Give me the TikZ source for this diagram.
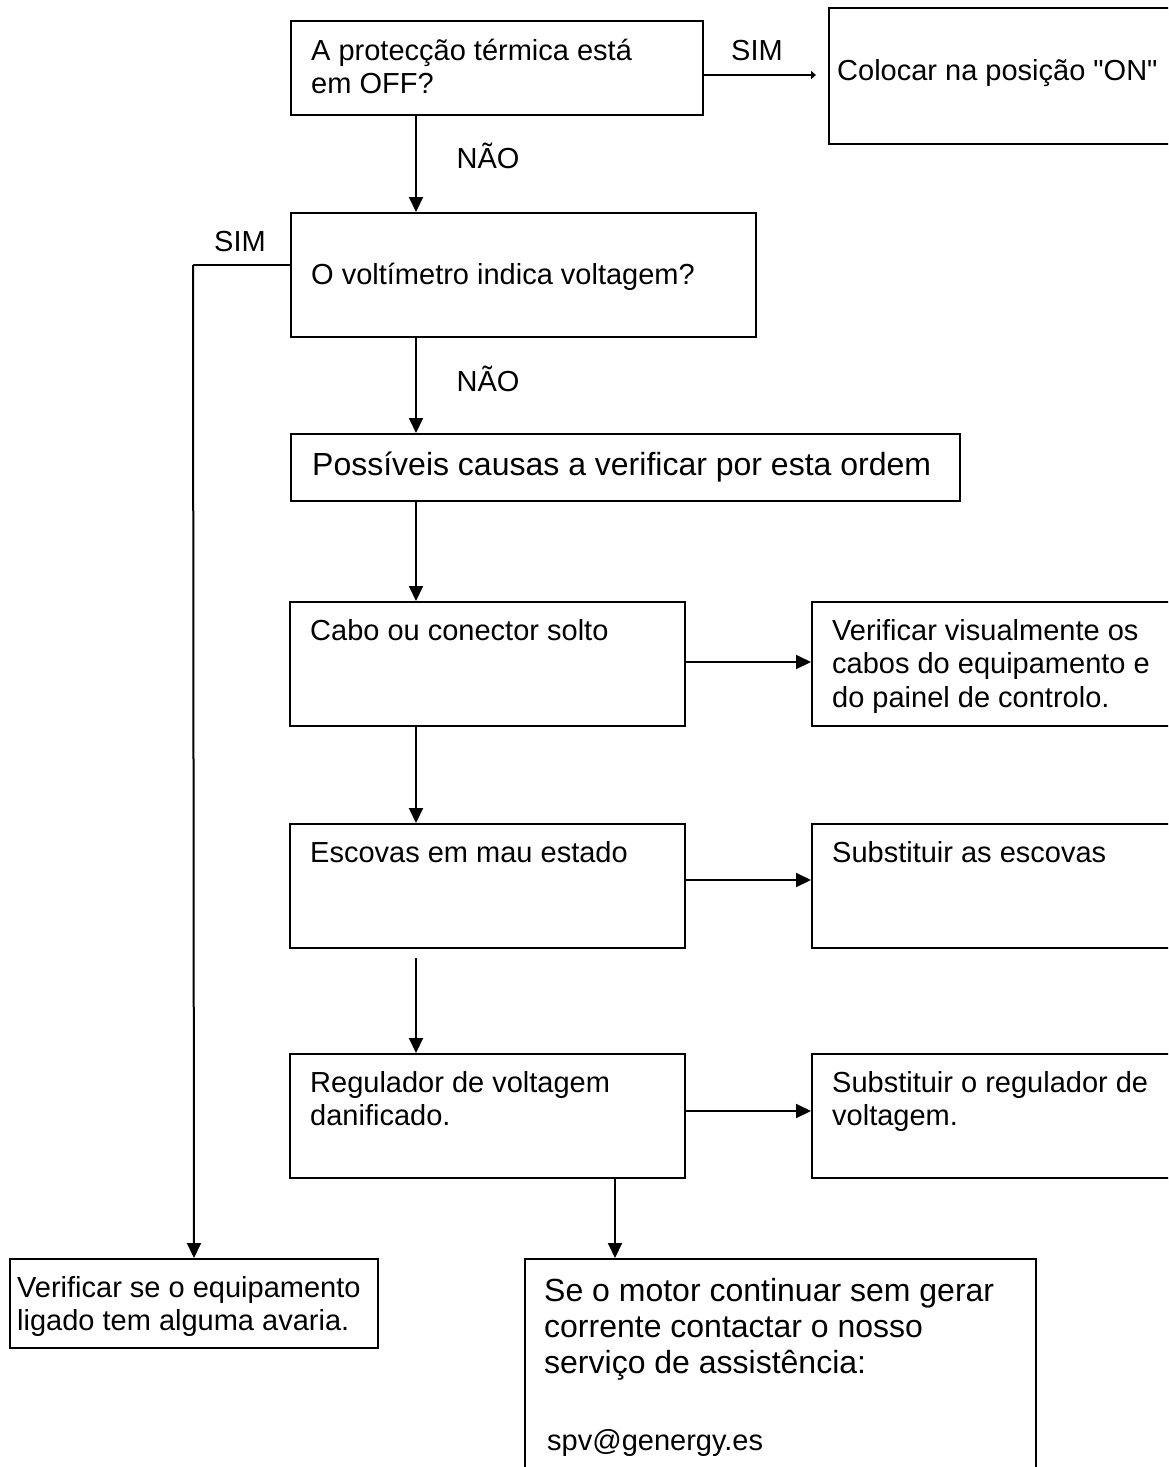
\documentclass[tikz,border=0pt]{standalone}
\usepackage{fontspec}
\setmainfont{Liberation Sans}[Ligatures=TeXOff]
\usetikzlibrary{arrows.meta}
\begin{document}
\begin{tikzpicture}[x=1pt,y=-1pt,
  box/.style={draw, line width=2pt, inner sep=0pt, anchor=north west},
  txt/.style={inner sep=0pt, anchor=north west, align=left, font=\fontsize{29}{33.5}\selectfont},
  bigtxt/.style={inner sep=0pt, anchor=north west, align=left, font=\fontsize{32}{36}\selectfont},
  arr/.style={line width=2pt, -{Triangle[length=15pt,width=14pt]}},
  smallarr/.style={line width=2pt, -{Triangle[length=5pt,width=8pt]}},
  plain/.style={line width=2pt},
  lbl/.style={inner sep=0pt, anchor=base, font=\fontsize{29}{33.5}\selectfont}]
\useasboundingbox (0,0) rectangle (1168,1467);
\clip (0,0) rectangle (1168,1467);

% boxes
\node[box, minimum width=412, minimum height=94] (a) at (290,20) {};
\node[box, minimum width=360, minimum height=136] (on) at (828,7) {};
\node[box, minimum width=465, minimum height=124] (b) at (290,212) {};
\node[box, minimum width=669, minimum height=67] (c) at (290,433) {};
\node[box, minimum width=395, minimum height=124] (d) at (289,601) {};
\node[box, minimum width=380, minimum height=124] (e) at (811,601) {};
\node[box, minimum width=395, minimum height=124] (f) at (289,823) {};
\node[box, minimum width=380, minimum height=124] (g) at (811,823) {};
\node[box, minimum width=395, minimum height=124] (h) at (289,1053) {};
\node[box, minimum width=380, minimum height=124] (i) at (811,1053) {};
\node[box, minimum width=368, minimum height=89] (k) at (9,1258) {};
\node[box, minimum width=511, minimum height=240] (j) at (524,1258) {};

% texts
\node[txt] (ta) at (311,36.5) {\strut A protecção térmica está\\em OFF?};
\node[txt] (ton) at (837,56.5) {\strut Colocar na posição "ON"};
\node[txt] (tb) at (311,260.5) {\strut O voltímetro indica voltagem?};
\node[bigtxt] (tc) at (312,450.5) {\strut Possíveis causas a verificar por esta ordem};
\node[txt] (td) at (310,616.5) {\strut Cabo ou conector solto};
\node[txt] (te) at (832,616.5) {\strut Verificar visualmente os\\cabos do equipamento e\\do painel de controlo.};
\node[txt] (tf) at (310,838.5) {\strut Escovas em mau estado};
\node[txt] (tg) at (832,838.5) {\strut Substituir as escovas};
\node[txt] (th) at (310,1068.5) {\strut Regulador de voltagem\\danificado.};
\node[txt] (ti) at (832,1068.5) {\strut Substituir o regulador de\\voltagem.};
\node[txt, font=\fontsize{29}{33}\selectfont] (tk) at (17,1274.5) {\strut Verificar se o equipamento\\ligado tem alguma avaria.};
\node[bigtxt] (tj) at (544,1276.3) {\strut Se o motor continuar sem gerar\\corrente contactar o nosso\\serviço de assistência:};
\node[txt] (tmail) at (547,1426.5) {\strut spv@genergy.es};

% labels
\node[lbl] (l1) at (757,60.5) {SIM};
\node[lbl] (l2) at (488,168.5) {NÃO};
\node[lbl] (l3) at (240,251.5) {SIM};
\node[lbl] (l4) at (488,391.5) {NÃO};

% connector helper coordinates
\coordinate (xm) at (416,0);
\coordinate (xj) at (615,0);
\coordinate (ya) at (0,75);
\coordinate (sl) at (193,265);
\coordinate (yd) at (0,662);
\coordinate (yf) at (0,880);
\coordinate (yh) at (0,1111);

% connectors
\draw[smallarr, shorten >=12pt] (a.east |- ya) -- (on.west |- ya);
\draw[arr] (a.south -| xm) -- (b.north -| xm);
\draw[plain] (b.west |- sl) -- (sl);
\draw[arr] (sl) -- (k.north);
\draw[arr] (b.south -| xm) -- (c.north -| xm);
\draw[arr] (c.south -| xm) -- (d.north -| xm);
\draw[arr] (d.east |- yd) -- (e.west |- yd);
\draw[arr] (d.south -| xm) -- (f.north -| xm);
\draw[arr] (f.east |- yf) -- (g.west |- yf);
\draw[arr, shorten <=9pt] (f.south -| xm) -- (h.north -| xm);
\draw[arr] (h.east |- yh) -- (i.west |- yh);
\draw[arr] (h.south -| xj) -- (j.north -| xj);
\end{tikzpicture}
\end{document}
